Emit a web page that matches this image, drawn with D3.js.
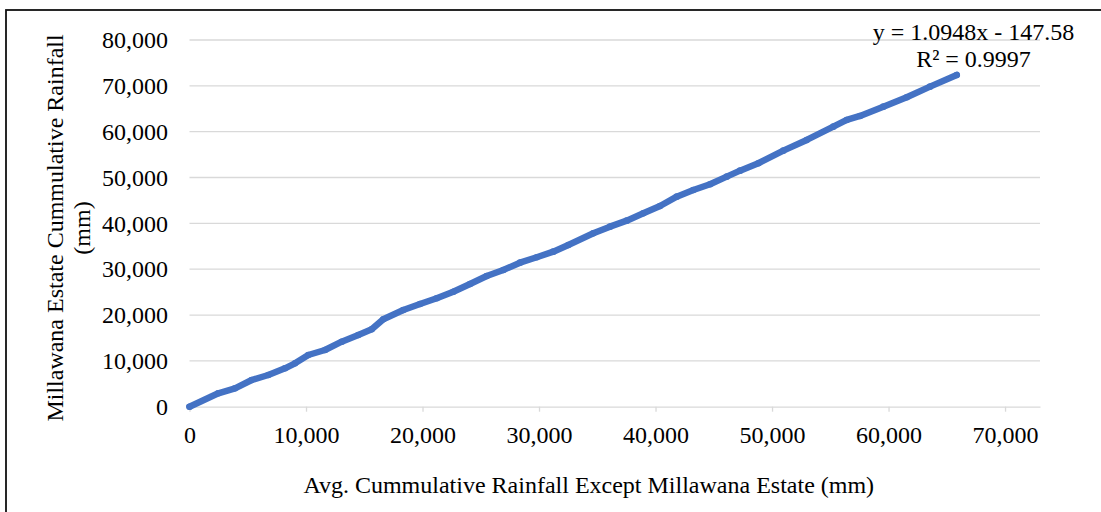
<!DOCTYPE html>
<html>
<head>
<meta charset="utf-8">
<script src="https://cdn.jsdelivr.net/npm/d3@7"></script>
<style>
  html, body { margin: 0; padding: 0; background: #fff; }
  svg { display: block; }
  text { font-family: "Liberation Serif", "Times New Roman", serif; fill: #000; }
</style>
</head>
<body>
<svg id="chart" width="1101" height="512"></svg>
<script>
// Cumulative rainfall (mm): average of other stations vs Millawana Estate
const avgCumRainfall = [
  0, 2472, 3906, 5339, 6764, 8197, 9056, 10197, 11631, 13064, 14489, 15639,
  16635, 18352, 19785, 21219, 22644, 24077, 25511, 26936, 28369, 29803, 31227,
  32515, 34661, 36094, 37528, 38953, 40386, 41820, 43245, 44678, 46112, 47253,
  48824, 50970, 52979, 55262, 56412, 57554, 59554, 61562, 63562, 65854
];
const millawanaCumRainfall = [
  0, 2924, 4015, 5826, 6917, 8379, 9470, 11281, 12372, 14183, 15645, 16889,
  19070, 21100, 22409, 23653, 25093, 26773, 28519, 29828, 31421, 32599, 33821,
  35283, 37836, 39276, 40585, 42200, 43792, 45822, 47284, 48527, 50186, 51495,
  53109, 55859, 58193, 61095, 62557, 63430, 65459, 67510, 69823, 72376
];

const xTickValues = [0, 10000, 20000, 30000, 40000, 50000, 60000, 70000];
const yTickValues = [0, 10000, 20000, 30000, 40000, 50000, 60000, 70000, 80000];
const xDomain = [0, 73000];
const yDomain = [0, 80000];

const trendLines = ["y = 1.0948x - 147.58", "R\u00B2 = 0.9997"];
const xTitle = "Avg. Cummulative Rainfall Except Millawana Estate (mm)";
const yTitleLines = ["Millawana Estate Cummulative Rainfall", "(mm)"];

const svg = d3.select("#chart");
const fmt = d3.format(",");

const plot = { left: 189.5, right: 1040, top: 40, bottom: 406.7 };
const x = d3.scaleLinear().domain(xDomain).range([plot.left, plot.right]);
const y = d3.scaleLinear().domain(yDomain).range([plot.bottom, plot.top]);

// chart frame
svg.append("rect")
  .attr("x", 6).attr("y", 10)
  .attr("width", 1300).attr("height", 700)
  .attr("fill", "none").attr("stroke", "#111").attr("stroke-width", 1.8);

// horizontal gridlines
svg.append("g")
  .selectAll("line")
  .data(yTickValues.filter(v => v > 0))
  .join("line")
  .attr("x1", plot.left).attr("x2", plot.right)
  .attr("y1", d => y(d)).attr("y2", d => y(d))
  .attr("stroke", "#d9d9d9").attr("stroke-width", 1.3);

// x axis
const xAxis = svg.append("g")
  .attr("transform", `translate(0,${plot.bottom})`)
  .call(d3.axisBottom(x).tickValues(xTickValues).tickFormat(fmt).tickSize(5).tickPadding(14).tickSizeOuter(0));
xAxis.select(".domain").attr("stroke", "#d9d9d9").attr("stroke-width", 1.3);
xAxis.selectAll(".tick line").attr("stroke", "#d9d9d9").attr("stroke-width", 1.3);
xAxis.selectAll(".tick text")
  .attr("font-family", "Liberation Serif, Times New Roman, serif")
  .attr("font-size", 24).attr("fill", "#000");

// y axis labels
const yAxis = svg.append("g")
  .attr("transform", `translate(${plot.left},0)`)
  .call(d3.axisLeft(y).tickValues(yTickValues).tickFormat(fmt).tickSize(0).tickPadding(21.5));
yAxis.select(".domain").remove();
yAxis.selectAll(".tick text")
  .attr("font-family", "Liberation Serif, Times New Roman, serif")
  .attr("font-size", 24).attr("fill", "#000");

// series: dense markers drawn as a thick band through the points
const pts = avgCumRainfall.map((v, i) => [v, millawanaCumRainfall[i]]);
const line = d3.line().x(d => x(d[0])).y(d => y(d[1])).curve(d3.curveLinear);
svg.append("path")
  .datum(pts)
  .attr("d", line)
  .attr("fill", "none")
  .attr("stroke", "#4472c4")
  .attr("stroke-width", 6.5)
  .attr("stroke-linejoin", "round")
  .attr("stroke-linecap", "round");
svg.append("g")
  .selectAll("circle")
  .data(pts)
  .join("circle")
  .attr("cx", d => x(d[0])).attr("cy", d => y(d[1]))
  .attr("r", 3.3)
  .attr("fill", "#4472c4");

// trendline label
svg.append("text")
  .attr("x", 973.5).attr("y", 39.5)
  .attr("text-anchor", "middle")
  .attr("font-size", 24)
  .selectAll("tspan")
  .data(trendLines)
  .join("tspan")
  .attr("x", 973.5)
  .attr("dy", (d, i) => i === 0 ? 0 : 27.5)
  .text(d => d);

// axis titles
svg.append("text")
  .attr("x", (plot.left + plot.right) / 2 - 26).attr("y", 493)
  .attr("text-anchor", "middle")
  .attr("font-size", 24)
  .text(xTitle);

const yt = svg.append("text")
  .attr("transform", "translate(63,228) rotate(-90)")
  .attr("text-anchor", "middle")
  .attr("font-size", 24);
yt.selectAll("tspan")
  .data(yTitleLines)
  .join("tspan")
  .attr("x", 0)
  .attr("dy", (d, i) => i === 0 ? 0 : 27)
  .text(d => d);
</script>
</body>
</html>
